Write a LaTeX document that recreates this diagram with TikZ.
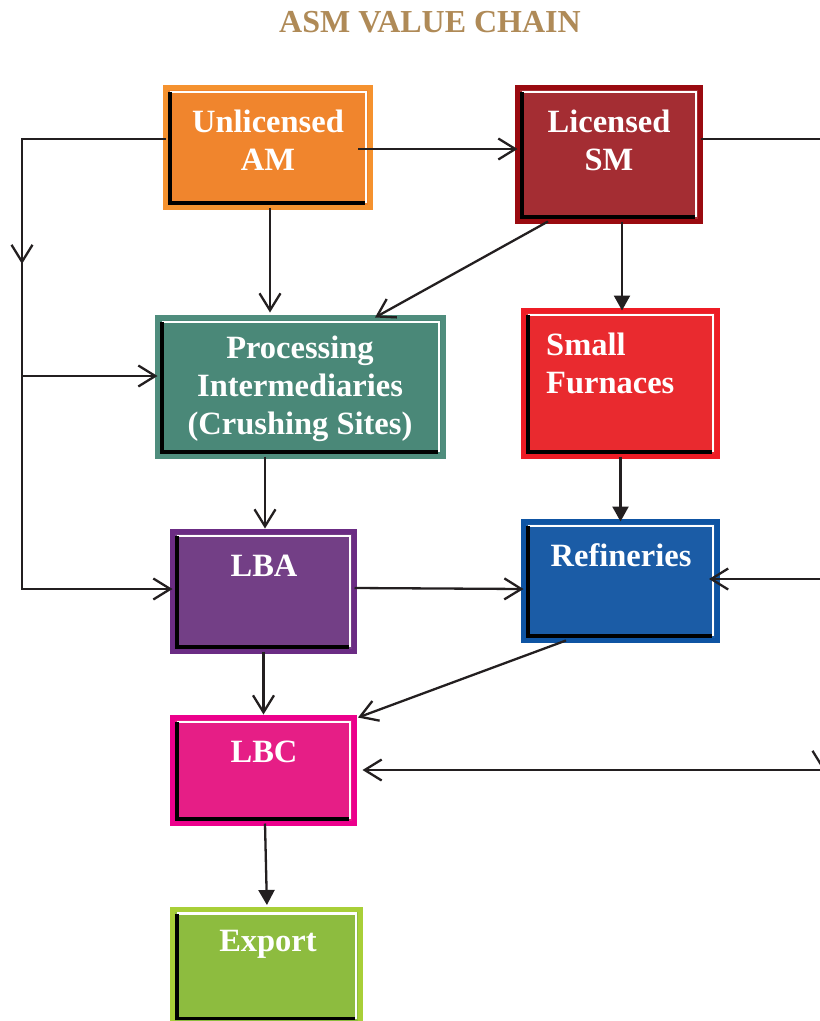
\documentclass[tikz,border=0pt]{standalone}
\usepackage{fontspec}
\setmainfont{Liberation Serif}
\usetikzlibrary{arrows.meta,calc}
\definecolor{uaF}{HTML}{F0852D}\definecolor{uaB}{HTML}{F5922F}
\definecolor{lsF}{HTML}{A42D33}\definecolor{lsB}{HTML}{9A0A10}
\definecolor{piF}{HTML}{4A8878}\definecolor{piB}{HTML}{4F8D7D}
\definecolor{sfF}{HTML}{E92A2F}\definecolor{sfB}{HTML}{EE1C25}
\definecolor{lbaF}{HTML}{733F86}\definecolor{lbaB}{HTML}{6B2C84}
\definecolor{refF}{HTML}{1B5CA6}\definecolor{refB}{HTML}{0E54A3}
\definecolor{lbcF}{HTML}{E61E86}\definecolor{lbcB}{HTML}{EC008C}
\definecolor{expF}{HTML}{8DBC3F}\definecolor{expB}{HTML}{A8CF38}
\definecolor{titleC}{HTML}{AF8A57}
\definecolor{lineC}{HTML}{231F20}
\newcommand\bevbox[1]{%
  \draw[white,line width=2.4pt] ($(#1.north west)+(4.5,4.5)$) -- ($(#1.north east)+(-4.5,4.5)$) -- ($(#1.south east)+(-4.5,-4.5)$);
  \draw[black,line width=3.4pt] ($(#1.north west)+(4.5,4.5)$) -- ($(#1.south west)+(4.5,-4.5)$) -- ($(#1.south east)+(-5.5,-4.5)$);
}
\tikzset{
  bx/.style={draw=#1, line width=5pt, outer sep=0pt, inner sep=0pt},
  lbl/.style={text=white, font=\fontsize{32.5}{38}\selectfont\bfseries, align=center, inner sep=0pt},
  conn/.style={draw=lineC, line width=2.3pt},
  oarr/.style={conn, -{Straight Barb[length=17pt,width=21pt]}},
  farr/.style={conn, -{Triangle[length=15pt,width=16pt]}},
}
\begin{document}
\begin{tikzpicture}[x=1pt,y=-1pt]
\useasboundingbox (0,0) rectangle (820,1021);
\node[text=titleC, font=\fontsize{32}{38}\selectfont\bfseries, inner sep=0pt] (title) at (430,22) {ASM VALUE CHAIN};

% boxes
\node[bx=uaB, fill=uaF, minimum width=205pt, minimum height=120pt] (ua) at (268,147.5) {};
\node[bx=lsB, fill=lsF, minimum width=183pt, minimum height=134pt] (ls) at (609,154.5) {};
\node[bx=piB, fill=piF, minimum width=286pt, minimum height=139pt] (pi) at (300.5,387) {};
\node[bx=sfB, fill=sfF, minimum width=194pt, minimum height=146pt] (sf) at (620.5,383.5) {};
\node[bx=lbaB, fill=lbaF, minimum width=182pt, minimum height=120pt] (lba) at (263.5,591.5) {};
\node[bx=refB, fill=refF, minimum width=194pt, minimum height=119pt] (ref) at (620.5,581) {};
\node[bx=lbcB, fill=lbcF, minimum width=182pt, minimum height=106pt] (lbc) at (263.5,770.5) {};
\node[bx=expB, fill=expF, minimum width=188pt, minimum height=114pt] (exp) at (266.5,966) {};
\bevbox{ua}\bevbox{ls}\bevbox{pi}\bevbox{sf}\bevbox{lba}\bevbox{ref}\bevbox{lbc}\bevbox{exp}

% labels
\node[lbl] (uat) at (268,140) {Unlicensed\\AM};
\node[lbl] (lst) at (609,140) {Licensed\\SM};
\node[lbl] (pit) at (300,389) {Processing\\Intermediaries\\(Crushing Sites)};
\node[lbl, align=left, anchor=west] (sft) at (546,363) {Small\\Furnaces};
\node[lbl] (lbat) at (264,566) {LBA};
\node[lbl] (reft) at (621,555) {Refineries};
\node[lbl] (lbct) at (264,752) {LBC};
\node[lbl] (expt) at (268,944) {Export};

% free ends
\coordinate (L) at (22,139);
\coordinate (Lm) at (22,264);
\coordinate (Lp) at (22,376);
\coordinate (R) at (823,139);
\coordinate (Rr) at (823,579);
\coordinate (Rm) at (823,770);

% connectors
\draw[oarr] ([yshift=8.5pt]ua.west) -- (L) |- ([yshift=2.5pt]lba.west);
\draw[oarr] (L) -- (Lm);
\draw[oarr] (Lp) -- (Lp -| pi.west);
\draw[oarr] ([xshift=-12.5pt,yshift=-1.5pt]ua.east) -- ([yshift=5.5pt]ls.west);
\draw[oarr, shorten >=5pt] ([xshift=2pt]ua.south) -- ([xshift=2pt]ua.south |- pi.north);
\draw[oarr] ([xshift=-61pt]ls.south) -- ([xshift=74.5pt]pi.north);
\draw[farr] ([xshift=13pt]ls.south) -- ([xshift=13pt]ls.south |- sf.north);
\draw[conn] ([yshift=15.5pt]ls.east) -- (R) -- (Rm);
\draw[oarr] (R) -- (Rm);
\draw[oarr] (Rr) -- ([xshift=-8.5pt]Rr -| ref.east);
\draw[oarr] (Rm) -- ([xshift=8pt]Rm -| lbc.east);
\draw[oarr, shorten >=3pt] ([xshift=-35.5pt]pi.south) -- ([xshift=1.5pt]lba.north);
\draw[farr] (sf.south) -- (ref.north);
\draw[oarr] ([yshift=3.5pt]lba.east) -- ([yshift=-8pt]ref.west);
\draw[oarr, shorten >=3pt] (lba.south) -- (lbc.north);
\draw[oarr] ([xshift=-54.5pt]ref.south) -- ([xshift=3.5pt]lbc.north east);
\draw[farr, shorten >=4pt] ([xshift=1.5pt]lbc.south) -- ([xshift=0.5pt]exp.north);
\end{tikzpicture}
\end{document}
